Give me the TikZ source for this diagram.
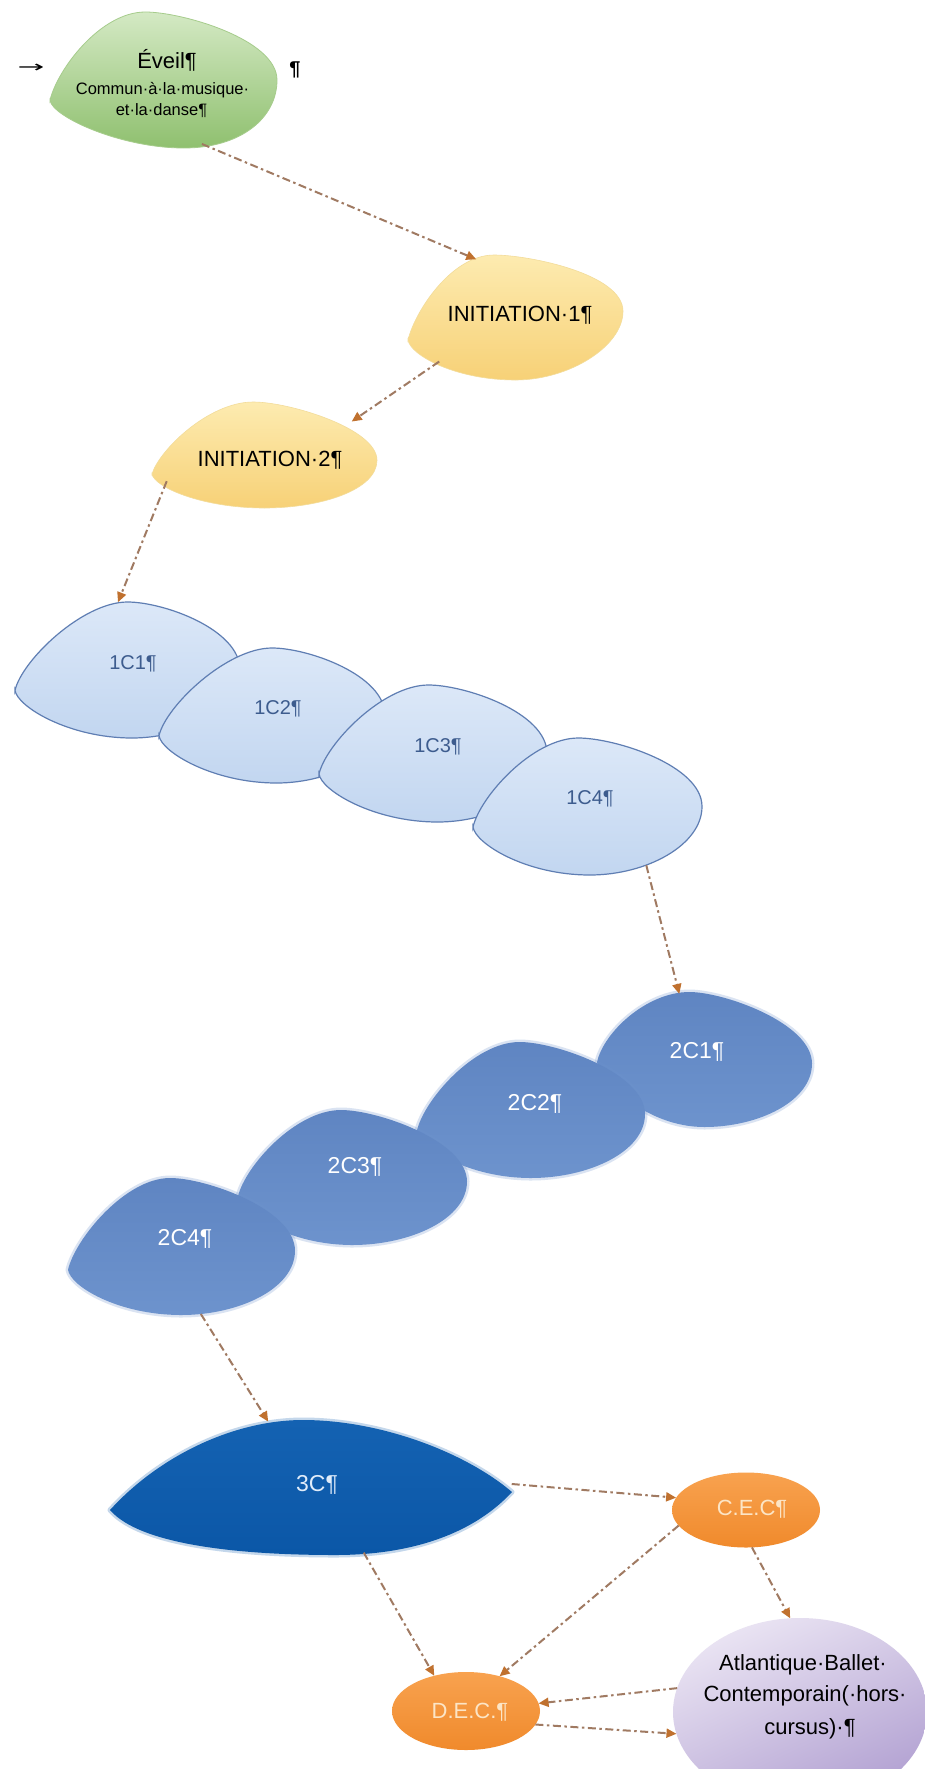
\documentclass[tikz,border=0pt]{standalone}
\usepackage{fontspec}
\setmainfont{Liberation Sans}
\newfontfamily\djv{DejaVu Sans}
\usetikzlibrary{shapes.geometric,arrows.meta}

\definecolor{arrline}{HTML}{A07A62}
\definecolor{arrhead}{HTML}{C0712F}
\definecolor{evtop}{HTML}{D4E9C4}
\definecolor{evbot}{HTML}{8FC06F}
\definecolor{evline}{HTML}{A6CC8C}
\definecolor{intop}{HTML}{FDEBB0}
\definecolor{inbot}{HTML}{F7D177}
\definecolor{inline}{HTML}{F3DC9A}
\definecolor{c1top}{HTML}{DCE8F8}
\definecolor{c1bot}{HTML}{C2D6F0}
\definecolor{c1line}{HTML}{5F7EB3}
\definecolor{c1text}{HTML}{3D5C8E}
\definecolor{c2top}{HTML}{5F85C2}
\definecolor{c2bot}{HTML}{6D93CD}
\definecolor{c3top}{HTML}{1462B2}
\definecolor{c3bot}{HTML}{0B57A7}
\definecolor{ortop}{HTML}{F8A24F}
\definecolor{orbot}{HTML}{F08A2C}
\definecolor{ortext}{HTML}{FCE5C6}
\definecolor{abtop}{HTML}{EAE4F3}
\definecolor{abbot}{HTML}{B2A1D2}
\definecolor{c3text}{HTML}{E0ECFA}

% #1 style, #2 left, #3 top, #4 width, #5 height, #6 peak x, #7 left y, #8 right y, #9 bottom x
\newcommand{\myblob}[9][]{%
  \begin{scope}[shift={(#2,#3)},xscale=#4,yscale=#5]
    \path[#1] (0,#7) .. controls (0.03,{#7-0.22}) and ({#6-0.2},0) .. (#6,0)
      .. controls ({#6+0.16},0) and (1,{#8-0.3}) .. (1,#8)
      .. controls (1,{#8+0.28}) and ({#9+0.25},1) .. (#9,1)
      .. controls ({#9-0.28},1) and (0.01,{#7+0.12}) .. cycle;
  \end{scope}}

\begin{document}
\begin{tikzpicture}[x=1pt,y=-1pt,
  blobnode/.style={ellipse, draw=none, inner sep=0pt, outer sep=0pt},
  txt/.style={inner sep=0pt, anchor=base, font=\fontsize{22}{26}\selectfont},
  conn/.style={draw=arrline, line width=2pt, dash pattern=on 8pt off 3.5pt on 2.5pt off 3.5pt,
    -{Triangle[length=10pt,width=9pt,color=arrhead]}},
  eveilfill/.style={top color=evtop, bottom color=evbot, draw=evline, line width=0.8pt},
  initfill/.style={top color=intop, bottom color=inbot, draw=inline, line width=0.6pt},
  c1fill/.style={top color=c1top, bottom color=c1bot, draw=c1line, line width=1.2pt},
  c2fill/.style={preaction={draw=c2bot, line width=5pt, line join=round, draw opacity=0.25}, top color=c2top, bottom color=c2bot},
  c3fill/.style={preaction={draw=c3top, line width=5pt, line join=round, draw opacity=0.25}, top color=c3top, bottom color=c3bot},
  orfill/.style={top color=ortop, bottom color=orbot},
  abfill/.style={top color=abtop, bottom color=abbot, shading angle=25}
]
\useasboundingbox (0,0) rectangle (925,1769);
\clip (0,0) rectangle (925,1769);
\fill[white] (0,0) rectangle (925,1769);

% ---- blob shapes ----
\myblob[eveilfill]{50}{12}{227}{136}{0.42}{0.65}{0.5}{0.59}
\myblob[initfill]{408}{255}{215}{125}{0.4}{0.68}{0.45}{0.5}
\myblob[initfill]{152}{402}{225}{106}{0.45}{0.68}{0.55}{0.5}
\myblob[c1fill]{15}{602}{225}{136}{0.5}{0.65}{0.5}{0.52}
\myblob[c1fill]{159}{648}{226}{135}{0.5}{0.65}{0.5}{0.52}
\myblob[c1fill]{319}{685}{228}{137}{0.48}{0.65}{0.5}{0.52}
\myblob[c1fill]{473}{738}{229}{137}{0.46}{0.65}{0.5}{0.51}
\myblob[c2fill]{597}{992}{215}{135}{0.43}{0.52}{0.53}{0.5}
\myblob[c2fill]{417}{1042}{228}{136}{0.45}{0.65}{0.53}{0.5}
\myblob[c2fill]{238}{1110}{229}{135}{0.45}{0.64}{0.53}{0.5}
\myblob[c2fill]{68}{1178}{227}{137}{0.45}{0.67}{0.53}{0.5}
\path[c3fill] (110,1510) .. controls (160,1455) and (235,1420) .. (303,1420)
  .. controls (380,1420) and (465,1452) .. (512,1492)
  .. controls (475,1532) and (415,1555) .. (335,1555)
  .. controls (240,1555) and (140,1545) .. cycle;

% ---- anchor nodes (blob areas) ----
\node[blobnode, minimum width=227pt, minimum height=136pt] (eveil) at (163.5,80) {};
\node[blobnode, minimum width=215pt, minimum height=125pt] (init1) at (515.5,317.5) {};
\node[blobnode, minimum width=225pt, minimum height=106pt] (init2) at (264.5,455) {};
\node[blobnode, minimum width=225pt, minimum height=136pt] (c11) at (127.5,670) {};
\node[blobnode, minimum width=226pt, minimum height=135pt] (c12) at (272,715.5) {};
\node[blobnode, minimum width=228pt, minimum height=137pt] (c13) at (433,753.5) {};
\node[blobnode, minimum width=229pt, minimum height=137pt] (c14) at (587.5,806.5) {};
\node[blobnode, minimum width=215pt, minimum height=135pt] (c21) at (704.5,1059.5) {};
\node[blobnode, minimum width=228pt, minimum height=136pt] (c22) at (531,1110) {};
\node[blobnode, minimum width=229pt, minimum height=135pt] (c23) at (352.5,1177.5) {};
\node[blobnode, minimum width=227pt, minimum height=137pt] (c24) at (181.5,1246.5) {};
\node[blobnode, minimum width=402pt, minimum height=135pt] (c3) at (311,1487.5) {};
\node[blobnode, orfill, minimum width=148pt, minimum height=75pt] (cec) at (746,1510) {};
\node[blobnode, orfill, minimum width=148pt, minimum height=78pt] (dec) at (466,1711) {};
\node[blobnode, abfill, minimum width=254pt, minimum height=188pt] (abc) at (800,1712) {};

% ---- texts ----
\node[txt, anchor=center, font=\djv\fontsize{16}{18}\selectfont] (tabmark) at (31,68) {\scalebox{2}[1]{→}};
\node[txt, anchor=center, font=\bfseries\fontsize{20}{22}\selectfont] (pilmark) at (295,70) {¶};
\node[txt] (eveilA) at (167,68) {Éveil¶};
\node[txt, font=\fontsize{16.5}{19}\selectfont] (eveilB) at (162.5,95) {Commun·à·la·musique·};
\node[txt, font=\fontsize{16.5}{19}\selectfont] (eveilC) at (161.5,115) {et·la·danse¶};
\node[txt] (init1T) at (520,321) {INITIATION·1¶};
\node[txt] (init2T) at (270,466) {INITIATION·2¶};
\node[txt, text=c1text, font=\fontsize{20}{24}\selectfont] (c11T) at (133,669) {1C1¶};
\node[txt, text=c1text, font=\fontsize{20}{24}\selectfont] (c12T) at (278,714) {1C2¶};
\node[txt, text=c1text, font=\fontsize{20}{24}\selectfont] (c13T) at (438,752) {1C3¶};
\node[txt, text=c1text, font=\fontsize{20}{24}\selectfont] (c14T) at (590,804) {1C4¶};
\node[txt, text=white, font=\fontsize{23}{27}\selectfont] (c21T) at (697,1058) {2C1¶};
\node[txt, text=white, font=\fontsize{23}{27}\selectfont] (c22T) at (535,1110) {2C2¶};
\node[txt, text=white, font=\fontsize{23}{27}\selectfont] (c23T) at (355,1173) {2C3¶};
\node[txt, text=white, font=\fontsize{23}{27}\selectfont] (c24T) at (185,1245) {2C4¶};
\node[txt, text=c3text, font=\fontsize{23}{27}\selectfont] (c3T) at (317,1491) {3C¶};
\node[txt, text=ortext] (cecT) at (752,1515) {C.E.C¶};
\node[txt, text=ortext] (decT) at (470,1718) {D.E.C.¶};
\node[txt] (abcA) at (803,1670) {Atlantique·Ballet·};
\node[txt] (abcB) at (805,1701) {Contemporain(·hors·};
\node[txt] (abcC) at (810,1734) {cursus)·¶};

% ---- connectors ----
\draw[conn] (eveil.-59.5) -- (init1.124);
\draw[conn] (init1.210) -- (init2.21.8);
\draw[conn] (init2.195) -- (c11.98);
\draw[conn] (c14.-45.5) -- (c21.111.6);
\draw[conn] (c24.-74.5) -- (c3.123.5);
\draw[conn] (c3.1.3) -- (cec.170.8);
\draw[conn] (c3.-51.6) -- (dec.132.8);
\draw[conn] (cec.193.8) -- (dec.46.3);
\draw[conn] (cec.-81.5) -- (abc.96.2);
\draw[conn] (abc.169.5) -- (dec.6.2);
\draw[conn] (dec.-11.8) -- (abc.190.2);
\end{tikzpicture}
\end{document}
